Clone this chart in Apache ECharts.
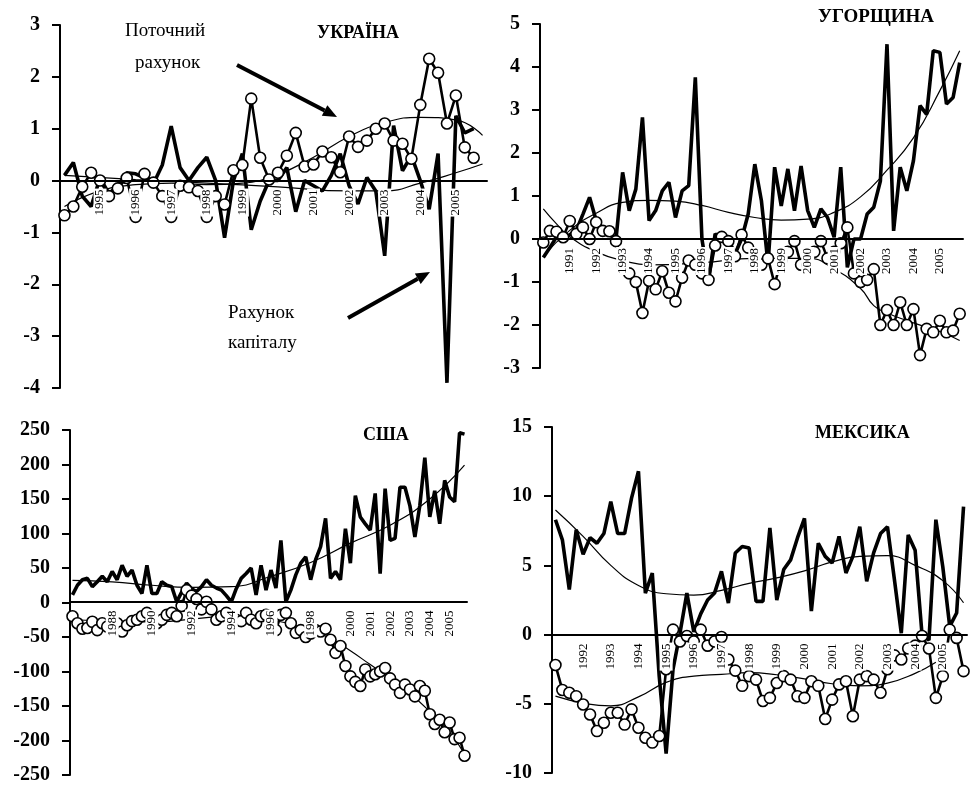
<!DOCTYPE html>
<html><head><meta charset="utf-8">
<script src="https://cdn.jsdelivr.net/npm/echarts/dist/echarts.min.js"></script>
<style>html,body{margin:0;padding:0;background:#fff}#c{width:977px;height:785px}</style>
</head><body><div id="c"></div>
<script>
// ---------- DATA ----------
// Ukraine: quarterly from 1994Q1
const uaStart = 1994, uaQuarters = 48;
const uaTicks = [1995,1996,1997,1998,1999,2000,2001,2002,2003,2004,2005];
const uaCurrent = [-0.67,-0.5,-0.12,0.15,0.0,-0.3,-0.15,0.05,-0.7,0.13,-0.04,-0.3,-0.7,-0.1,-0.13,-0.2,-0.7,-0.3,-0.46,0.2,0.3,1.58,0.44,0.02,0.15,0.48,0.92,0.27,0.31,0.56,0.45,0.16,0.85,0.65,0.77,1.0,1.1,0.77,0.71,0.42,1.46,2.35,2.08,1.1,1.64,0.64,0.44];
const uaCapital = [0.1,0.35,-0.3,-0.5,0.05,-0.25,-0.1,0.15,0.13,0.05,-0.06,0.3,1.05,0.25,0.0,0.25,0.45,0.0,-1.1,0.0,0.52,-0.95,-0.4,0.0,0.0,0.25,-0.6,0.0,-0.1,-0.2,0.1,0.52,-0.1,-0.45,0.06,-0.2,-1.45,1.06,0.19,0.48,0.0,-0.55,0.52,-3.9,1.25,0.92,1.0];
const uaCurTrendYears = [1994,1995,1996,1997,1998,1999,2000,2001,2002,2003,2004,2005,2005.75];
const uaCurTrend = [-0.5,-0.2,-0.08,-0.05,-0.08,-0.05,0.12,0.45,0.85,1.12,1.22,1.17,0.87];
const uaCapTrendYears = [1994,1996,1998,2000,2002,2003,2004,2005,2005.75];
const uaCapTrend = [0.1,0.02,-0.05,-0.12,-0.2,-0.2,-0.05,0.15,0.32];

// Hungary: quarterly from 1990Q1
const huStart = 1990, huQuarters = 64;
const huTicks = [1991,1992,1993,1994,1995,1996,1997,1998,1999,2000,2001,2002,2003,2004,2005];
const huCurrent = [-0.08,0.19,0.17,0.04,0.42,0.12,0.27,0.0,0.39,0.19,0.18,-0.05,-0.6,-0.8,-1.0,-1.72,-0.97,-1.17,-0.75,-1.25,-1.45,-0.9,-0.5,-0.6,-0.8,-0.95,-0.15,0.05,-0.05,-0.4,0.1,-0.2,-0.5,-0.6,-0.45,-1.05,-0.5,-0.3,-0.05,-0.6,-0.6,-0.3,-0.05,-0.45,-0.3,-0.1,0.27,-0.8,-1.0,-0.95,-0.7,-2.0,-1.65,-2.0,-1.47,-2.0,-1.63,-2.7,-2.09,-2.17,-1.9,-2.17,-2.13,-1.74];
const huCapital = [-0.43,-0.2,0.05,0.0,0.1,0.2,0.58,0.97,0.43,0.2,0.1,0.0,1.55,0.66,1.16,2.83,0.43,0.66,1.12,1.32,0.5,1.12,1.24,3.76,0.0,-0.97,0.12,0.0,0.0,-0.35,0.0,0.58,1.74,0.89,-0.58,1.67,0.77,1.63,0.66,1.7,0.66,0.27,0.7,0.5,0.04,1.67,-0.66,0.0,0.0,0.58,0.74,1.35,4.53,0.19,1.67,1.12,1.82,3.1,2.9,4.38,4.34,3.14,3.29,4.1];
const huCurTrendYears = [1990,1990.5,1991,1992,1993,1994,1996,1998,2000,2001,2002,2002.5,2003,2004,2005,2005.75];
const huCurTrend = [0.7,0.35,0.05,-0.3,-0.5,-0.6,-0.55,-0.45,-0.45,-0.7,-1.15,-1.55,-1.72,-1.95,-2.15,-2.36];
const huCapTrendYears = [1990,1991,1992,1993,1994,1995,1996,1997,1998,1999,2000,2001,2002,2003,2004,2005,2005.75];
const huCapTrend = [-0.4,0.2,0.6,0.85,0.9,0.88,0.78,0.62,0.5,0.44,0.46,0.62,0.98,1.6,2.35,3.45,4.38];

// USA: quarterly from 1986Q1
const usStart = 1986, usQuarters = 80;
const usTicks = [1988,1990,1992,1994,1996,1998,2000,2001,2002,2003,2004,2005];
const usCurrent = [-20,-30,-38,-37,-28,-40,-30,-35,-25,-30,-42,-33,-27,-25,-20,-15,-25,-30,-25,-18,-15,-20,-5,18,10,5,-10,1,-10,-25,-20,-15,-20,-25,-27,-15,-25,-30,-20,-18,-35,-40,-18,-15,-30,-44,-40,-50,-45,-40,-42,-38,-54,-73,-63,-92,-107,-115,-121,-97,-107,-104,-100,-95,-110,-119,-131,-119,-126,-136,-121,-128,-162,-176,-170,-188,-174,-198,-196,-222];
const usCapital = [11,25,33,35,23,30,38,30,45,33,54,38,47,25,13,54,13,13,30,25,23,1,15,28,20,16,23,33,25,21,18,10,1,20,35,42,50,11,54,18,47,21,90,1,18,40,57,66,33,62,81,122,35,45,33,107,57,155,124,114,105,158,42,165,90,93,167,167,140,95,141,210,124,162,114,177,153,146,246,244];
const usCurTrendYears = [1986,1990,1994,1996,1998,1999,2000,2001,2002,2003,2004,2005,2005.75];
const usCurTrend = [-25,-28,-20,-25,-40,-52,-70,-90,-110,-132,-158,-188,-220];
const usCapTrendYears = [1986,1988,1990,1992,1994,1996,1998,2000,2002,2004,2005.75];
const usCapTrend = [32,30,25,22,23,38,58,86,112,150,199];

// Mexico: quarterly from 1991Q1
const mxStart = 1991, mxQuarters = 60;
const mxTicks = [1992,1993,1994,1995,1996,1997,1998,1999,2000,2001,2002,2003,2004,2005];
const mxCurrent = [-2.2,-4.0,-4.2,-4.45,-5.05,-5.77,-6.97,-6.37,-5.65,-5.65,-6.5,-5.4,-6.73,-7.45,-7.8,-7.33,-2.5,0.36,-0.5,-0.1,-0.5,0.36,-0.8,-0.5,-0.17,-1.8,-2.6,-3.7,-3.0,-3.25,-4.8,-4.57,-3.5,-3.0,-3.25,-4.45,-4.57,-3.37,-3.7,-6.1,-4.7,-3.6,-3.37,-5.9,-3.25,-3.0,-3.25,-4.2,-2.5,-1.5,-1.8,-1.0,-0.8,-0.1,-1.0,-4.57,-3.0,0.36,-0.24,-2.64];
const mxCapital = [8.3,6.85,3.25,7.57,5.8,7.0,6.6,7.3,9.6,7.3,7.3,9.86,11.8,3.0,4.45,-3.0,-8.6,-2.5,0.1,3.0,0.2,1.5,2.5,3.0,4.57,2.28,5.9,6.37,6.25,2.4,2.4,7.7,2.5,4.7,5.4,7.0,8.4,1.7,6.6,5.65,5.17,7.1,4.45,5.65,7.8,3.85,5.9,7.3,7.8,4.0,0.1,7.2,6.1,0.0,-0.4,8.3,4.9,0.6,1.56,9.25];
const mxCurTrendYears = [1991,1992,1993,1994,1995,1996,1997,1998,1999,2000,2001,2002,2003,2004,2004.75];
const mxCurTrend = [-4.45,-4.95,-5.15,-4.5,-3.45,-3.0,-2.88,-2.75,-2.9,-3.2,-3.55,-3.7,-3.5,-2.8,-2.0];
const mxCapTrendYears = [1991,1992,1993,1994,1995,1996,1997,1998,1999,2000,2001,2002,2003,2004,2005,2005.75];
const mxCapTrend = [9.0,7.1,5.0,3.55,2.95,2.85,3.2,3.7,4.1,4.6,5.25,5.65,5.7,5.0,3.9,2.3];

const titles = ['УКРАЇНА','УГОРЩИНА','США','МЕКСИКА'];

// ---------- BUILD ----------
const panels = [
  {start:uaStart, n:uaQuarters, ticks:uaTicks, cur:uaCurrent, cap:uaCapital, ctY:uaCurTrendYears, ct:uaCurTrend, ktY:uaCapTrendYears, kt:uaCapTrend},
  {start:huStart, n:huQuarters, ticks:huTicks, cur:huCurrent, cap:huCapital, ctY:huCurTrendYears, ct:huCurTrend, ktY:huCapTrendYears, kt:huCapTrend},
  {start:usStart, n:usQuarters, ticks:usTicks, cur:usCurrent, cap:usCapital, ctY:usCurTrendYears, ct:usCurTrend, ktY:usCapTrendYears, kt:usCapTrend},
  {start:mxStart, n:mxQuarters, ticks:mxTicks, cur:mxCurrent, cap:mxCapital, ctY:mxCurTrendYears, ct:mxCurTrend, ktY:mxCapTrendYears, kt:mxCapTrend}
];
const layout = [
  {left:60, top:25, width:427, height:363, min:-4, max:3, interval:1, tl:317, tt:24, ts:18},
  {left:540, top:24, width:423, height:344, min:-3, max:5, interval:1, tl:818, tt:8, ts:19},
  {left:70, top:430, width:397, height:347, min:-250, max:250, interval:50, tl:363, tt:426, ts:18},
  {left:552, top:427, width:415, height:346, min:-10, max:15, interval:5, tl:815, tt:424, ts:18}
];
const FONT = 'Liberation Serif';

function cats(p){
  const out=[];
  for(let i=0;i<p.n;i++){
    const y = p.start + Math.floor(i/4);
    out.push(i%4===0 && p.ticks.indexOf(y)>=0 ? String(y) : '');
  }
  return out;
}
function trend(p, years, vals){
  return years.map((y,k)=>[Math.round((y-p.start)*4), vals[k]]);
}

const grid=[], xAxis=[], yAxis=[], series=[], title=[];
panels.forEach((p,k)=>{
  const L = layout[k];
  const zeroOffset = L.height * (0 - L.min) / (L.max - L.min);
  grid.push({left:L.left, top:L.top, width:L.width, height:L.height, containLabel:false});
  xAxis.push({type:'category', gridIndex:k, data:cats(p), boundaryGap:true, z:6,
    position:'bottom', offset:-zeroOffset,
    axisLine:{onZero:false, lineStyle:{color:'#000', width:2}},
    axisTick:{show:false},
    axisLabel:{interval:0, rotate:90, fontFamily:FONT, fontSize:13, color:'#000', margin:8,
      backgroundColor:'#fff', padding:[0,1,0,1]},
    splitLine:{show:false}});
  yAxis.push({type:'value', gridIndex:k, min:L.min, max:L.max, interval:L.interval,
    axisLine:{show:true, onZero:false, lineStyle:{color:'#000', width:2}},
    axisTick:{show:true, length:8, lineStyle:{color:'#000', width:2}},
    axisLabel:{fontFamily:FONT, fontSize:20, fontWeight:'bold', color:'#000', margin:20},
    splitLine:{show:false}});
  series.push({type:'line', name:'trend-cap', xAxisIndex:k, yAxisIndex:k, data:trend(p,p.ktY,p.kt),
    smooth:0.5, symbol:'none', lineStyle:{color:'#000', width:1.2}, z:2, silent:true});
  series.push({type:'line', name:'trend-cur', xAxisIndex:k, yAxisIndex:k, data:trend(p,p.ctY,p.ct),
    smooth:0.5, symbol:'none', lineStyle:{color:'#000', width:1.2}, z:2, silent:true});
  series.push({type:'line', name:'capital', xAxisIndex:k, yAxisIndex:k, data:p.cap,
    symbol:'none', lineStyle:{color:'#000', width:3.6}, z:3});
  series.push({type:'line', name:'current', xAxisIndex:k, yAxisIndex:k, data:p.cur,
    symbol:'circle', symbolSize:11, showAllSymbol:true,
    itemStyle:{color:'#fff', borderColor:'#000', borderWidth:1.6},
    lineStyle:{color:'#000', width:2.6}, z:4});
  title.push({text:titles[k], left:L.tl, top:L.tt, padding:0,
    textStyle:{fontFamily:FONT, fontSize:L.ts, fontWeight:'bold', color:'#000'}});
});

function arrow(x1,y1,x2,y2){
  const dx=x2-x1, dy=y2-y1, len=Math.sqrt(dx*dx+dy*dy), ux=dx/len, uy=dy/len;
  const bx=x2-ux*14, by=y2-uy*14, px=-uy*6, py=ux*6;
  return [
    {type:'line', shape:{x1:x1,y1:y1,x2:bx,y2:by}, style:{stroke:'#000', lineWidth:4}},
    {type:'polygon', shape:{points:[[x2,y2],[bx+px,by+py],[bx-px,by-py]]}, style:{fill:'#000'}}
  ];
}
const annStyle = {fill:'#000', font:'19px "Liberation Serif"'};
const graphic = [
  {type:'text', left:125, top:22, style:Object.assign({text:'Поточний'}, annStyle)},
  {type:'text', left:135, top:54, style:Object.assign({text:'рахунок'}, annStyle)},
  {type:'text', left:228, top:304, style:Object.assign({text:'Рахунок'}, annStyle)},
  {type:'text', left:228, top:334, style:Object.assign({text:'капіталу'}, annStyle)}
].concat(arrow(237,65,337,117)).concat(arrow(348,318,430,272));

const chart = echarts.init(document.getElementById('c'));
chart.setOption({animation:false, backgroundColor:'#fff', title, grid, xAxis, yAxis, series, graphic});
</script></body></html>
